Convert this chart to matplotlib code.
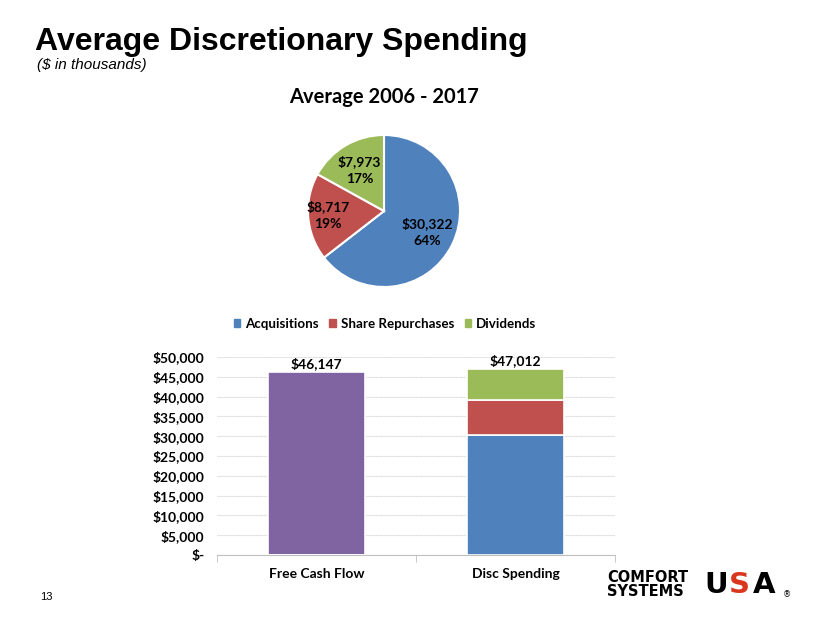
import matplotlib
matplotlib.use("Agg")
import matplotlib.pyplot as plt
from matplotlib.patches import Patch
from matplotlib.ticker import FuncFormatter
import numpy as np

# pie data
pie_labels = ["Acquisitions", "Share Repurchases", "Dividends"]
pie_values = [30322, 8717, 7973]
pie_pcts = [64, 19, 17]

# bar data
categories = ["Free Cash Flow", "Disc Spending"]
free_cash = [46147, 0]
acquisitions = [0, 30322]
repurchases = [0, 8717]
dividends = [0, 7973]
totals = [46147, 47012]

blue = "#4F81BD"
red = "#C0504D"
green = "#9BBB59"
purple = "#8064A2"
body_font = "Lato"

W, H = 830, 623
fig = plt.figure(figsize=(W / 100, H / 100), dpi=100)

def px_axes(x0, y0, x1, y1):
    return fig.add_axes([x0 / W, 1 - y1 / H, (x1 - x0) / W, (y1 - y0) / H])

# titles
fig.text(35 / W, 1 - 50 / H, "Average Discretionary Spending", fontsize=23,
         fontweight="bold", family="Liberation Sans", ha="left", va="baseline")
fig.text(37 / W, 1 - 69 / H, "($ in thousands)", fontsize=11, style="italic",
         family="Liberation Sans", ha="left", va="baseline")
fig.text(384 / W, 1 - 97 / H, "Average 2006 - 2017", fontsize=14.5,
         fontweight="bold", family=body_font, ha="center", va="center")

# pie
cx, cy, R = 384, 211, 76
axp = px_axes(cx - R, cy - R, cx + R, cy + R)
wedges, _ = axp.pie(pie_values, colors=[blue, red, green], startangle=90,
                    counterclock=False, radius=1,
                    wedgeprops=dict(edgecolor="white", linewidth=1.5))
dist = [0.64, 0.74, 0.63]
for w, v, p, d in zip(wedges, pie_values, pie_pcts, dist):
    ang = np.deg2rad((w.theta1 + w.theta2) / 2)
    axp.text(d * np.cos(ang), d * np.sin(ang), f"${v:,}\n{p}%", ha="center",
             va="center", fontsize=10, fontweight="bold", family=body_font,
             linespacing=1.5)
axp.set_xlim(-1, 1)
axp.set_ylim(-1, 1)
axp.set_aspect("equal")
axp.axis("off")

# legend
handles = [Patch(color=c, label=l) for c, l in zip([blue, red, green], pie_labels)]
fig.legend(handles=handles, loc="center", bbox_to_anchor=(385 / W, 1 - 324 / H),
           ncol=3, frameon=False, handlelength=0.5, handleheight=0.5,
           handletextpad=0.35, columnspacing=0.8,
           prop=dict(family=body_font, weight="bold", size=9.6))

# bars
ax = px_axes(217, 357, 615, 555)
x = np.arange(len(categories))
bw = 0.49
kw = dict(width=bw, edgecolor="white", linewidth=1.2)
ax.bar(x, free_cash, color=purple, **kw)
ax.bar(x, acquisitions, color=blue, **kw)
ax.bar(x, repurchases, bottom=acquisitions, color=red, **kw)
ax.bar(x, dividends, bottom=np.add(acquisitions, repurchases), color=green, **kw)
for xi, t in zip(x, totals):
    ax.text(xi, t + 500, f"${t:,}", ha="center", va="bottom", fontsize=10,
            fontweight="bold", family=body_font)

ax.set_xlim(-0.5, 1.5)
ax.set_ylim(0, 50000)
ax.set_yticks(range(0, 50001, 5000))
ax.yaxis.set_major_formatter(FuncFormatter(lambda v, _: "$-" if v == 0 else f"${v:,.0f}"))
ax.set_xticks(x)
ax.set_xticklabels(categories)
ax.set_xticks([-0.5, 0.5, 1.5], minor=True)
ax.tick_params(axis="x", which="major", length=0, pad=9)
ax.tick_params(axis="x", which="minor", length=5, color="#BFBFBF")
ax.tick_params(axis="y", length=0, pad=9)
for lab in ax.get_xticklabels() + ax.get_yticklabels():
    lab.set_fontfamily(body_font)
    lab.set_fontweight("bold")
    lab.set_fontsize(10)
ax.grid(axis="y", color="#D9D9D9", linewidth=0.8, linestyle=(0, (1, 0.5)))
ax.set_axisbelow(True)
for s in ["top", "right", "left"]:
    ax.spines[s].set_visible(False)
ax.spines["bottom"].set_color("#BFBFBF")

# page number and logo
fig.text(40 / W, 1 - 597 / H, "13", fontsize=8, family="Liberation Sans",
         ha="left", va="center")
fig.text(607 / W, 1 - 578 / H, "COMFORT", fontsize=10.5, fontweight="bold",
         family="DejaVu Sans", ha="left", va="center")
fig.text(607 / W, 1 - 592 / H, "SYSTEMS", fontsize=10.5, fontweight="bold",
         family="DejaVu Sans", ha="left", va="center")
fig.text(704 / W, 1 - 585 / H, "U", fontsize=21, fontweight="bold",
         family="DejaVu Sans", ha="left", va="center")
fig.text(729 / W, 1 - 585 / H, "S", fontsize=21, fontweight="bold", color="#D9361E",
         family="DejaVu Sans", ha="left", va="center")
fig.text(753 / W, 1 - 585 / H, "A", fontsize=21, fontweight="bold",
         family="DejaVu Sans", ha="left", va="center")
fig.text(783 / W, 1 - 595 / H, "®", fontsize=6, family="DejaVu Sans",
         ha="left", va="center")

fig.savefig("out.png", dpi=100)
